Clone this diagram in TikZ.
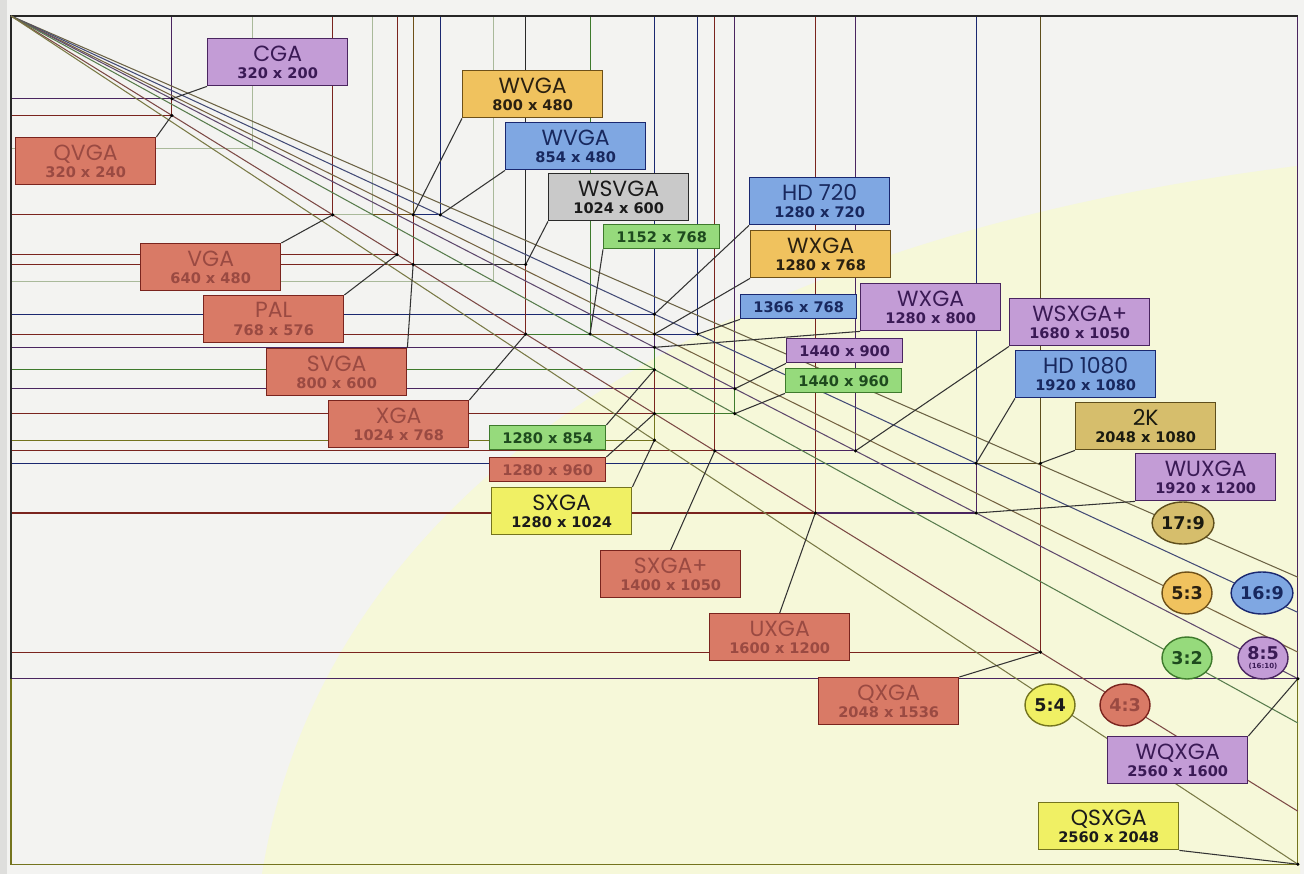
\documentclass[tikz,border=0pt]{standalone}
\usepackage{fontspec}
\usetikzlibrary{shapes.geometric}
\newfontfamily\namefont{Poppins}
\newfontfamily\numfont{DejaVu Sans}
\newcommand\resnamefont{\namefont\fontsize{12.5}{13}\selectfont}
\newcommand\resnumfont{\numfont\bfseries\fontsize{8.3}{8.6}\selectfont}
\newcommand\ratiofont{\numfont\bfseries\fontsize{10}{11}\selectfont}
\definecolor{paper}{HTML}{F3F3F1}
\definecolor{paperedge}{HTML}{DEDEDC}
\definecolor{paleyellow}{HTML}{F6F8D9}
\definecolor{purplefill}{HTML}{C39CD6}\definecolor{purpleline}{HTML}{4A2560}\definecolor{purpletext}{HTML}{3A1A55}
\definecolor{redfill}{HTML}{D97A66}\definecolor{redline}{HTML}{7A241E}\definecolor{redtext}{HTML}{9A4A42}
\definecolor{orangefill}{HTML}{F0C25E}\definecolor{orangeline}{HTML}{6E5018}\definecolor{orangetext}{HTML}{2A2010}
\definecolor{bluefill}{HTML}{7FA7E2}\definecolor{blueline}{HTML}{1A2870}\definecolor{bluetext}{HTML}{18285E}
\definecolor{greyfill}{HTML}{C9C9C9}\definecolor{greyline}{HTML}{2A2A2A}\definecolor{greytext}{HTML}{1A1A1A}
\definecolor{greenfill}{HTML}{96DA7C}\definecolor{greenline}{HTML}{3E7A2C}\definecolor{greentext}{HTML}{1E4A1E}
\definecolor{yellowfill}{HTML}{F0F064}\definecolor{yellowline}{HTML}{74741E}\definecolor{yellowtext}{HTML}{1A1A1A}
\definecolor{khakifill}{HTML}{D6BE6C}\definecolor{khakiline}{HTML}{5E4E1C}\definecolor{khakitext}{HTML}{1A1A10}
\definecolor{faintline}{HTML}{A9B99A}

\begin{document}
\begin{tikzpicture}[x=0.02cm,y=-0.02cm,
  resbox/.style={draw,line width=0.8pt,minimum width=2.8cm,minimum height=0.94cm,inner sep=0pt,align=center,anchor=north west},
  numbox/.style={draw,line width=0.8pt,minimum width=2.32cm,minimum height=0.48cm,inner sep=0pt,anchor=north west,font=\resnumfont},
  ratiodot/.style={ellipse,draw,line width=0.8pt,minimum width=1cm,minimum height=0.84cm,inner sep=0pt,align=center,font=\ratiofont},
  leader/.style={line width=0.6pt,black!80},
  reslines/.style={line width=0.6pt},
  diag/.style={line width=0.6pt}]
\useasboundingbox (0,0) rectangle (1304,874);
\fill[paper] (0,0) rectangle (1304,874);
\fill[paperedge] (0,0) rectangle (7,874);
\fill[paleyellow] (1297,166) .. controls (700,240) and (322,495) .. (262,874) -- (1300,874) -- cycle;

\begin{scope}[shift={(11,16)},x=0.01006cm,y=-0.00828cm]
\foreach \rw/\rh/\col in {2560/2048/yellow,2560/1600/purple,2048/1536/red,1920/1200/purple,2048/1080/khaki,
  1920/1080/blue,1600/1200/red,1680/1050/purple,1400/1050/red,1440/960/green,1280/1024/yellow,1440/900/purple,
  1280/960/red,1280/854/green,1366/768/blue,1280/800/purple,1280/768/orange,1280/720/blue,1152/768/green,
  1024/768/red,960/640/faint,1024/600/grey,800/600/red,768/576/red,854/480/blue,800/480/orange,720/480/faint,
  640/480/red,480/320/faint,320/240/red,320/200/purple}{
  \draw[reslines,draw=\col line] (0,0) rectangle (\rw,\rh);
  \coordinate (c\rw x\rh) at (\rw,\rh);
}
\draw[line width=0.9pt,black!85] (0,1600) -- (0,0) -- (2560,0);
\foreach \rh/\col in {1355/khaki,1440/blue,1536/orange,1600/purple,1707/green,1920/red,2048/yellow}
  \draw[diag,draw=\col line!60!gray] (0,0) -- (2560,\rh);
\end{scope}

\foreach \id/\lbl/\res/\xy/\col in {
  cga/CGA/{320 x 200}/{207,38}/purple, qvga/QVGA/{320 x 240}/{15,137}/red,
  vga/VGA/{640 x 480}/{140,243}/red, wvgaa/WVGA/{800 x 480}/{462,70}/orange,
  wvgab/WVGA/{854 x 480}/{505,122}/blue, wsvga/WSVGA/{1024 x 600}/{548,173}/grey,
  hd720/HD 720/{1280 x 720}/{749,177}/blue, wxgaa/WXGA/{1280 x 768}/{750,230}/orange,
  wxgab/WXGA/{1280 x 800}/{860,283}/purple, wsxga/WSXGA+/{1680 x 1050}/{1009,298}/purple,
  hd1080/HD 1080/{1920 x 1080}/{1015,350}/blue, twok/2K/{2048 x 1080}/{1075,402}/khaki,
  wuxga/WUXGA/{1920 x 1200}/{1135,453}/purple, pal/PAL/{768 x 576}/{203,295}/red,
  svga/SVGA/{800 x 600}/{266,348}/red, xga/XGA/{1024 x 768}/{328,400}/red,
  sxga/SXGA/{1280 x 1024}/{491,487}/yellow, sxgap/SXGA+/{1400 x 1050}/{600,550}/red,
  uxga/UXGA/{1600 x 1200}/{709,613}/red, qxga/QXGA/{2048 x 1536}/{818,677}/red,
  wqxga/WQXGA/{2560 x 1600}/{1107,736}/purple, qsxga/QSXGA/{2560 x 2048}/{1038,802}/yellow%
}{
  \node[resbox,fill=\col fill,draw=\col line,text=\col text] (\id) at (\xy)
    {{\resnamefont \lbl}\\[-2pt]{\resnumfont \res}};
}
\foreach \id/\res/\xy/\col in {
  n1152/{1152 x 768}/{603,224}/green, n1366/{1366 x 768}/{740,294}/blue,
  n1440a/{1440 x 900}/{786,338}/purple, n1440b/{1440 x 960}/{785,368}/green,
  n1280a/{1280 x 854}/{489,425}/green, n1280b/{1280 x 960}/{489,457}/red%
}{
  \node[numbox,fill=\col fill,draw=\col line,text=\col text] (\id) at (\xy) {\res};
}

\foreach \id/\anc/\corner in {
  cga/south west/320x200, qvga/north east/320x240, vga/north east/640x480,
  wvgaa/south west/800x480, wvgab/south west/854x480, wsvga/south west/1024x600,
  n1152/south west/1152x768, hd720/south west/1280x720, wxgaa/south west/1280x768,
  n1366/south west/1366x768, wxgab/south west/1280x800, n1440a/south west/1440x900,
  n1440b/south west/1440x960, wsxga/south west/1680x1050, hd1080/south west/1920x1080,
  twok/south west/2048x1080, wuxga/south west/1920x1200, pal/north east/768x576,
  svga/north east/800x600, xga/north east/1024x768, n1280a/north east/1280x854,
  n1280b/north east/1280x960, sxga/north east/1280x1024, sxgap/north/1400x1050,
  uxga/north/1600x1200, qxga/north east/2048x1536, wqxga/north east/2560x1600,
  qsxga/south east/2560x2048%
}{
  \draw[leader] (\id.\anc) -- (c\corner);
  \fill (c\corner) circle[radius=0.035cm];
}

\node[ratiodot,fill=khakifill,draw=khakiline,text=khakitext] (r17x9) at (1183,523) {17:9};
\node[ratiodot,fill=bluefill,draw=blueline,text=bluetext] (r16x9) at (1262,593) {16:9};
\node[ratiodot,fill=orangefill,draw=orangeline,text=orangetext] (r5x3) at (1187,593) {5:3};
\node[ratiodot,fill=greenfill,draw=greenline,text=greentext] (r3x2) at (1187,658) {3:2};
\node[ratiodot,fill=purplefill,draw=purpleline,text=purpletext] (r8x5) at (1263,658)
  {8:5\\[-6pt]{\fontsize{4}{4}\selectfont\bfseries (16:10)}};
\node[ratiodot,fill=yellowfill,draw=yellowline,text=yellowtext] (r5x4) at (1050,705) {5:4};
\node[ratiodot,fill=redfill,draw=redline,text=redtext] (r4x3) at (1125,705) {4:3};
\end{tikzpicture}
\end{document}
